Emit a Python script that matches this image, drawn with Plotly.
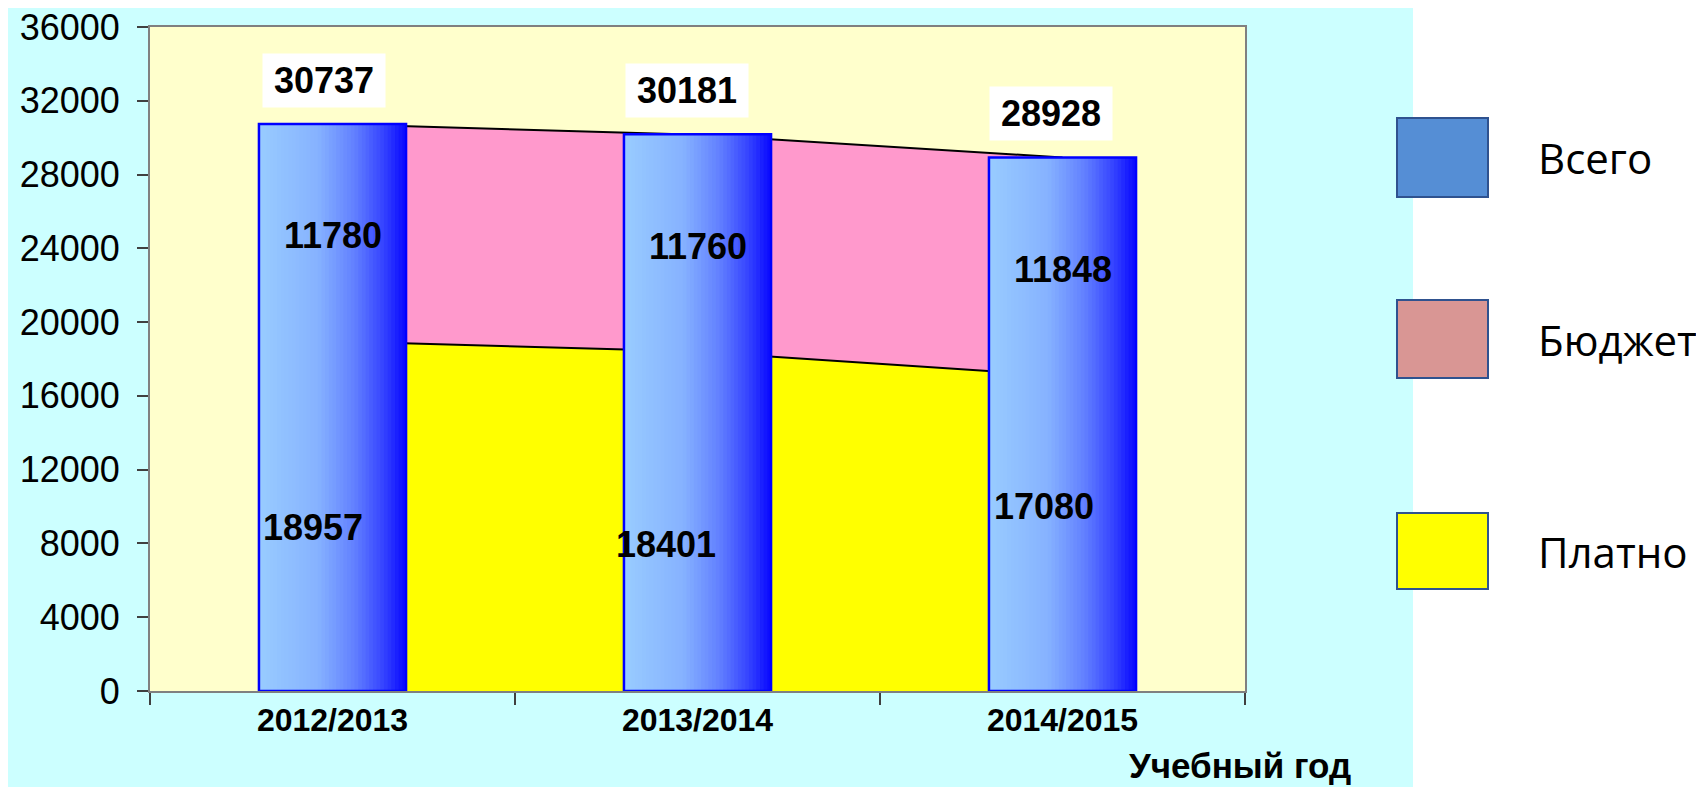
"""Контингент студентов по учебным годам: всего, бюджет, платно."""

import plotly.graph_objects as go

YEARS = ["2012/2013", "2013/2014", "2014/2015"]
TOTAL = [30737, 30181, 28928]
BUDGET = [11780, 11760, 11848]
PAID = [18957, 18401, 17080]

LEGEND_LABELS = ["Всего", "Бюджет", "Платно"]
LEGEND_COLORS = ["#558ED5", "#D99694", "#FFFF00"]

# ручная раскладка подписей (как в исходной диаграмме)
TOP_LABEL_DX = [-0.022, -0.029, -0.032]
PAID_LABEL_DX = [-0.053, -0.086, -0.051]
PAID_LABEL_Y = [8840, 7970, 9980]

# страница 1704x787, у body стандартный отступ 8px
PAGE_W, PAGE_H, BODY_PAD = 1704, 787, 8
W, H = PAGE_W - BODY_PAD, PAGE_H - BODY_PAD
PLOT_L, PLOT_R, PLOT_T, PLOT_B = 150, 1245, 27, 691  # в координатах страницы
BAR_W = 0.403
N_SLICES = 40
GRADIENT = [
    (0.0, (153, 204, 255)),
    (0.4, (134, 178, 255)),
    (0.65, (98, 128, 255)),
    (0.85, (52, 66, 255)),
    (1.0, (8, 8, 255)),
]
BOLD = "Liberation Sans"


def px_x(px):
    return (px - PLOT_L) / (PLOT_R - PLOT_L)


def px_y(py):
    return (PLOT_B - py) / (PLOT_B - PLOT_T)


def gradient_color(t):
    for (t0, c0), (t1, c1) in zip(GRADIENT, GRADIENT[1:]):
        if t <= t1:
            f = (t - t0) / (t1 - t0)
            rgb = [round(a + (b - a) * f) for a, b in zip(c0, c1)]
            return f"rgb({rgb[0]},{rgb[1]},{rgb[2]})"
    return "rgb(8,8,255)"


fig = go.Figure()

# площади: платно + бюджет (накопительно)
fig.add_trace(go.Scatter(
    x=YEARS, y=PAID, stackgroup="one", mode="lines",
    line=dict(color="black", width=2), fillcolor="#FFFF00",
    hoverinfo="skip",
))
fig.add_trace(go.Scatter(
    x=YEARS, y=BUDGET, stackgroup="one", mode="lines",
    line=dict(color="black", width=2), fillcolor="#FF99CC",
    hoverinfo="skip",
))

# столбцы "Всего" с горизонтальным градиентом (узкие полосы)
step = BAR_W / N_SLICES
for k in range(N_SLICES):
    fig.add_trace(go.Bar(
        x=YEARS, y=TOTAL,
        offset=-BAR_W / 2 + k * step,
        width=step * (1.5 if k < N_SLICES - 1 else 1.0),
        marker=dict(color=gradient_color((k + 0.5) / N_SLICES), line_width=0),
        xaxis="x2", yaxis="y2", hoverinfo="skip",
    ))
fig.add_trace(go.Bar(
    x=YEARS, y=TOTAL, width=BAR_W,
    marker=dict(color="rgba(0,0,0,0)", line=dict(color="#0000FF", width=2.5)),
    xaxis="x2", yaxis="y2", hoverinfo="skip",
))

label_font = dict(family=BOLD, size=36, color="black")
for i, year in enumerate(YEARS):
    fig.add_annotation(
        x=i + TOP_LABEL_DX[i], y=TOTAL[i], yshift=44,
        text=f"<b>{TOTAL[i]}</b>", showarrow=False, font=label_font,
        bgcolor="white", width=120, height=51,
    )
    fig.add_annotation(
        x=i, y=PAID[i] + BUDGET[i] / 2, yshift=-3,
        text=f"<b>{BUDGET[i]}</b>", showarrow=False, font=label_font,
    )
    fig.add_annotation(
        x=i + PAID_LABEL_DX[i], y=PAID_LABEL_Y[i],
        text=f"<b>{PAID[i]}</b>", showarrow=False, font=label_font,
    )

fig.add_annotation(
    xref="paper", yref="paper", x=px_x(1353), y=px_y(765),
    xanchor="right", yanchor="middle", showarrow=False,
    text="<b>Учебный год</b>", font=dict(family=BOLD, size=35, color="black"),
)

# фон: голубая подложка и светло-жёлтая область построения
fig.add_shape(
    type="rect", xref="paper", yref="paper", layer="below",
    x0=px_x(5), x1=px_x(1413), y0=px_y(PAGE_H + 5), y1=px_y(-5),
    fillcolor="#CCFFFF", line_width=0,
)
fig.add_shape(
    type="rect", xref="x domain", yref="y domain", layer="below",
    x0=0, x1=1, y0=0, y1=1, fillcolor="#FFFFCC", line_width=0,
)

# легенда
legend_boxes = [(118, 197), (300, 378), (513, 589)]
for label, color, (top, bottom) in zip(LEGEND_LABELS, LEGEND_COLORS, legend_boxes):
    fig.add_shape(
        type="rect", xref="paper", yref="paper",
        x0=px_x(1397), x1=px_x(1488), y0=px_y(bottom), y1=px_y(top),
        fillcolor=color, line=dict(color="#2F528F", width=2),
    )
    fig.add_annotation(
        xref="paper", yref="paper", x=px_x(1536), y=px_y((top + bottom) / 2),
        xanchor="left", yanchor="middle", showarrow=False, text=label,
        font=dict(family="Open Sans", size=42, color="black"),
    )

axis_line = dict(showline=True, mirror=True, linecolor="#808080", linewidth=2,
                 showgrid=False, zeroline=False, automargin=False)
fig.update_layout(
    width=W, height=H,
    margin=dict(l=PLOT_L - BODY_PAD, r=PAGE_W - PLOT_R,
                t=PLOT_T - BODY_PAD, b=PAGE_H - PLOT_B, autoexpand=False),
    paper_bgcolor="white",
    plot_bgcolor="#FFFFCC",
    barmode="overlay",
    showlegend=False,
    xaxis=dict(
        type="category", range=[-0.5, 2.5], tickson="boundaries",
        ticks="outside", ticklen=12, tickcolor="#404040", tickwidth=1.5,
        tickfont=dict(family=BOLD, size=32, color="black", weight="bold"),
        **axis_line,
    ),
    yaxis=dict(
        range=[0, 36000], dtick=4000, tickformat="d",
        ticks="outside", ticklen=11, tickcolor="#404040", tickwidth=1.5,
        ticklabelstandoff=10, ticklabeloverflow="allow",
        tickfont=dict(family="Liberation Sans", size=36, color="black"),
        **axis_line,
    ),
    xaxis2=dict(overlaying="x", type="category", range=[-0.5, 2.5], visible=False),
    yaxis2=dict(overlaying="y", range=[0, 36000], visible=False),
)

fig.write_html("out.html")
